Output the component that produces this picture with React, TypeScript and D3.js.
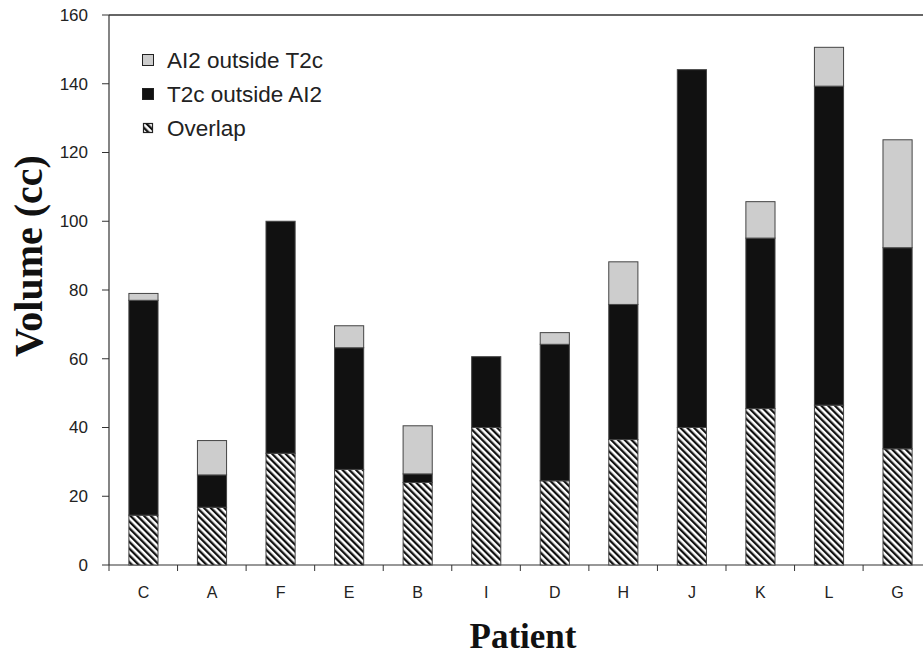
import * as d3 from "d3";

// patients in plotted order
const patients = ["C", "A", "F", "E", "B", "I", "D", "H", "J", "K", "L", "G"];
// volumes (cc) of each stacked part, bottom to top
const overlap = [14.5, 16.8, 32.5, 27.8, 24, 40, 24.5, 36.5, 40, 45.5, 46.5, 33.8];
const t2cOutside = [62.5, 9.4, 67.5, 35.4, 2.5, 20.6, 39.7, 39.3, 104.1, 49.6, 92.8, 58.5];
const ai2Outside = [2, 10, 0, 6.4, 14, 0, 3.4, 12.4, 0, 10.6, 11.3, 31.4];
const yTicks = [0, 20, 40, 60, 80, 100, 120, 140, 160];

const legendItems = [
  { key: "ai2", label: "AI2 outside T2c" },
  { key: "t2c", label: "T2c outside AI2" },
  { key: "overlap", label: "Overlap" },
];

const W = 923;
const H = 655;
const left = 109;
const top = 15;
const bottom = 565;
const right = 932;

const fills: Record<string, string> = {
  overlap: "url(#hatch)",
  t2c: "#111",
  ai2: "#cdcdcd",
};

export default function App() {
  const x = d3.scaleBand().domain(patients).range([left, right]).paddingInner(0.575).paddingOuter(0.29);
  const y = d3.scaleLinear().domain([0, 160]).range([bottom, top]);

  const rows = patients.map((p, i) => ({ p, overlap: overlap[i], t2c: t2cOutside[i], ai2: ai2Outside[i] }));
  const series = d3.stack<any>().keys(["overlap", "t2c", "ai2"])(rows);

  const step = x.step();
  const sans = "'Liberation Sans', Arial, sans-serif";
  const serif = "'Liberation Serif', 'Times New Roman', serif";

  return (
    <div style={{ position: "absolute", left: 0, top: 0 }}>
      <svg width={W} height={H} style={{ display: "block", background: "#fff" }}>
        <defs>
          <pattern id="hatch" patternUnits="userSpaceOnUse" width={4.8} height={4.8} patternTransform="rotate(-45)">
            <rect width={4.8} height={4.8} fill="#fff" />
            <rect width={2.3} height={4.8} fill="#111" />
          </pattern>
        </defs>

        {/* frame */}
        <line x1={left} x2={W} y1={top} y2={top} stroke="#333" strokeWidth={1.5} />
        <line x1={left} x2={left} y1={top} y2={bottom} stroke="#333" strokeWidth={1.2} />
        <line x1={left} x2={W} y1={bottom} y2={bottom} stroke="#333" strokeWidth={1.2} />

        {/* y axis */}
        {yTicks.map((t) => (
          <g key={t}>
            <line x1={left - 7} x2={left} y1={y(t)} y2={y(t)} stroke="#333" />
            <text x={88} y={y(t)} dy="0.35em" textAnchor="end" fontFamily={sans} fontSize={17} fill="#222">
              {t}
            </text>
          </g>
        ))}

        {/* x axis ticks between bands */}
        {patients.map((p, i) => (
          <line key={p} x1={left + i * step} x2={left + i * step} y1={bottom} y2={bottom + 6} stroke="#333" />
        ))}
        {patients.map((p) => (
          <text key={p} x={(x(p) ?? 0) + x.bandwidth() / 2} y={598} textAnchor="middle" fontFamily={sans} fontSize={16} fill="#222">
            {p}
          </text>
        ))}

        {/* bars */}
        {series.map((s) => (
          <g key={s.key}>
            {s.map((d) =>
              d[1] - d[0] > 0 ? (
                <rect
                  key={d.data.p}
                  x={x(d.data.p)}
                  width={x.bandwidth()}
                  y={y(d[1])}
                  height={y(d[0]) - y(d[1])}
                  fill={fills[s.key]}
                  stroke="#444"
                  strokeWidth={1}
                />
              ) : null
            )}
          </g>
        ))}

        {/* legend */}
        {legendItems.map((it, i) => (
          <g key={it.key} transform={`translate(0,${60 + i * 34})`}>
            {it.key === "overlap" ? (
              <rect x={143.5} y={-4.5} width={9} height={9} fill="url(#hatch)" stroke="#222" strokeWidth={1.2} />
            ) : (
              <rect x={142.5} y={-5.5} width={11} height={11} fill={fills[it.key]} stroke="#222" strokeWidth={1} />
            )}
            <text x={167} y={0} dy="0.35em" fontFamily={sans} fontSize={22.5} fill="#222">
              {it.label}
            </text>
          </g>
        ))}

        {/* axis titles */}
        <text
          transform="translate(42,256) rotate(-90)"
          textAnchor="middle"
          fontFamily={serif}
          fontWeight="bold"
          fontSize={40}
          fill="#111"
        >
          Volume (cc)
        </text>
        <text x={523} y={648} textAnchor="middle" fontFamily={serif} fontWeight="bold" fontSize={35} fill="#111">
          Patient
        </text>
      </svg>
    </div>
  );
}
